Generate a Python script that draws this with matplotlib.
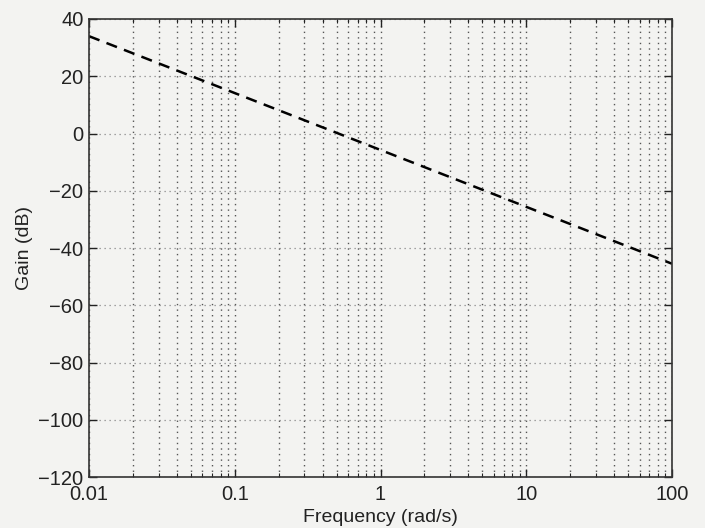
import matplotlib
matplotlib.use("Agg")
import matplotlib.pyplot as plt
import numpy as np
from matplotlib.ticker import LogLocator, FixedLocator, NullFormatter

plt.rcParams['font.family'] = ['Liberation Sans', 'DejaVu Sans']

freq = [0.01, 100]
gain_db = [34.0, -45.5]
x_ticks = [0.01, 0.1, 1, 10, 100]
x_tick_labels = ['0.01', '0.1', '1', '10', '100']
y_ticks = [40, 20, 0, -20, -40, -60, -80, -100, -120]
y_tick_labels = ['40', '20', '0', '\u221220', '\u221240', '\u221260', '\u221280', '\u2212100', '\u2212120']

bg = '#f3f3f1'
fig = plt.figure(figsize=(7.05, 5.28), dpi=100, facecolor=bg)
ax = fig.add_axes([89/705, 1 - 477/528, (672-89)/705, (477-19)/528], facecolor=bg)

ax.plot(freq, gain_db, color='black', linestyle=(0, (4.5, 3)), linewidth=1.8)
ax.set_xscale('log')
ax.set_xlim(0.01, 100)
ax.set_ylim(-120, 40)

ax.xaxis.set_major_locator(FixedLocator(x_ticks))
ax.set_xticklabels(x_tick_labels)
ax.xaxis.set_minor_locator(LogLocator(base=10, subs=np.arange(2, 10), numticks=20))
ax.xaxis.set_minor_formatter(NullFormatter())
ax.yaxis.set_major_locator(FixedLocator(y_ticks))
ax.set_yticklabels(y_tick_labels)

ax.grid(True, which='major', axis='y', linestyle=(0, (1, 3)), color='#888888', linewidth=0.9)
ax.grid(True, which='both', axis='x', linestyle=(0, (1, 3)), color='#555555', linewidth=1.0)

ax.tick_params(which='both', direction='in', top=True, right=True, labelsize=14.5, colors='#222222')
ax.tick_params(which='major', length=6, width=1)
ax.tick_params(which='minor', length=3, width=0.8)
ax.tick_params(axis='x', pad=6)
ax.tick_params(axis='y', pad=4)
for s in ax.spines.values():
    s.set_color('#333333')
    s.set_linewidth(1.2)

ax.set_xlabel('Frequency (rad/s)', fontsize=14, color='#222222', labelpad=3)
ax.set_ylabel('Gain (dB)', fontsize=14, color='#222222', labelpad=4)

fig.savefig('out.png', dpi=100, facecolor=bg)
